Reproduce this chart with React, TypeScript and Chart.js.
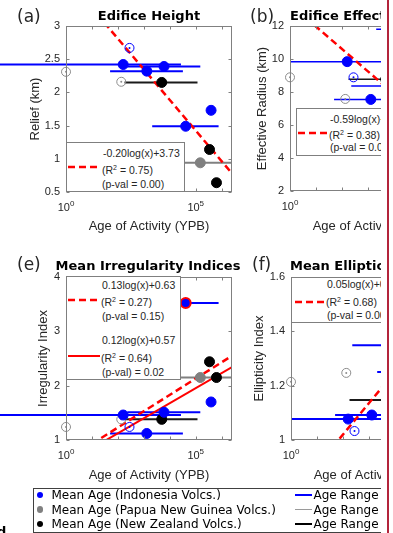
import React, { useEffect, useRef } from 'react';
import { Chart, registerables } from 'chart.js';

Chart.register(...registerables);

const SANS = "'Liberation Sans', Arial, Helvetica, sans-serif";
const DEJAVU = "'DejaVu Sans', sans-serif";

// ---------- shared x axis: Age of Activity (YPB), log scale ----------
const X_MIN = 1;
const X_MAX = 2500000;
const X_TICKS = [1, 10, 100, 1000, 10000, 100000, 1000000];
const X_LABEL_TICKS = [1, 100000];

// ---------- ages (years before present) ----------
const IDN_AGE = [160, 6000, 1300, 390000, 41000];
const IDN_AGE_MIN = [0.002, 230, 50, null, 2100];
const IDN_AGE_MAX = [27000, 150000, 32000, null, 760000];
const PNG_AGE = [150000];
const PNG_AGE_MIN = [8000];
const PNG_AGE_MAX = [5000000];
const NZ_AGE = [4900, 340000, 630000];
const NZ_AGE_MIN = [180, null, null];
const NZ_AGE_MAX = [117000, null, null];
const IDN_OPEN_AGE = [280];
const PNG_OPEN_AGE = [1];
const NZ_OPEN_AGE = [135];

// ---------- (a) Edifice Height ----------
const RELIEF_TICKS = [0.5, 1, 1.5, 2, 2.5, 3];
const RELIEF_IDN = [2.42, 2.39, 2.32, 1.73, 1.49];
const RELIEF_PNG = [0.94];
const RELIEF_NZ = [2.15, 1.14, 0.64];
const RELIEF_IDN_OPEN = [2.67];
const RELIEF_PNG_OPEN = [2.31];
const RELIEF_NZ_OPEN = [2.16];
const RELIEF_FIT_X = [30, 2500000];
const RELIEF_FIT_Y = [3.05, 0.78];

// ---------- (b) Edifice Effective Radius ----------
const RADIUS_TICKS = [2, 4, 6, 8, 10, 12];
const RADIUS_IDN = [9.84, 8.36, 7.55, 5.6, 11.8];
const RADIUS_PNG = [6.2];
const RADIUS_NZ = [8.77, 5.0, 4.3];
const RADIUS_IDN_OPEN = [8.89];
const RADIUS_PNG_OPEN = [8.89];
const RADIUS_NZ_OPEN = [7.58];
const RADIUS_FIT_X = [2, 2500000];
const RADIUS_FIT_Y = [12.92, 4.64];

// ---------- (e) Mean Irregularity Indices ----------
const IRREG_TICKS = [1, 2, 3, 4];
const IRREG_IDN = [1.46, 1.51, 1.12, 1.7, 3.52];
const IRREG_PNG = [2.15];
const IRREG_NZ = [1.38, 2.44, 2.15];
const IRREG_IDN_OPEN = [1.24];
const IRREG_PNG_OPEN = [1.24];
const IRREG_NZ_OPEN = [1.38];
const IRREG_OUTLIER = 4;
const IRREG_FIT_ALL_X = [10, 2500000];
const IRREG_FIT_ALL_Y = [0.93, 2.55];
const IRREG_FIT_SUB_X = [20, 2500000];
const IRREG_FIT_SUB_Y = [0.93, 2.34];

// ---------- (f) Mean Ellipticity ----------
const ELLIP_TICKS = [1, 1.2, 1.4, 1.6];
const ELLIP_IDN = [1.077, 1.349, 1.092, 1.3, 1.25];
const ELLIP_PNG = [1.33];
const ELLIP_NZ = [1.147, 1.36, 1.3];
const ELLIP_IDN_OPEN = [1.033];
const ELLIP_PNG_OPEN = [1.214];
const ELLIP_NZ_OPEN = [1.247];
const ELLIP_FIT_X = [40, 2500000];
const ELLIP_FIT_Y = [0.974, 1.527];

const BLUE = '#0000ff';
const GRAY = '#808080';
const OPEN_GRAY = '#8c8c8c';
const BLACK = '#000000';
const RANGE_BLACK = '#1a1a1a';
const RED = '#ff0000';
const TXT = '#262626';

const pts = (xs: number[], ys: number[]) => xs.map((x, i) => ({ x, y: ys[i] }));

function buildDatasets(p: any) {
  const ds: any[] = [];
  const clip = p.extendLeft ? { left: false, top: 0, right: 0, bottom: 0 } : 0;
  const addRanges = (mins: any[], maxs: any[], ys: number[], color: string) => {
    mins.forEach((lo, i) => {
      const hi = maxs[i];
      if (lo == null || hi == null) return;
      ds.push({
        data: [{ x: lo, y: ys[i] }, { x: hi, y: ys[i] }],
        showLine: true, borderColor: color, borderWidth: p.rangeWidth,
        pointRadius: 0, clip, order: 3,
      });
    });
  };
  addRanges(IDN_AGE_MIN, IDN_AGE_MAX, p.idn, BLUE);
  addRanges(PNG_AGE_MIN, PNG_AGE_MAX, p.png, GRAY);
  addRanges(NZ_AGE_MIN, NZ_AGE_MAX, p.nz, RANGE_BLACK);
  p.fits.forEach((f: any) => {
    ds.push({
      data: pts(f.x, f.y), showLine: true, borderColor: RED,
      borderWidth: f.dash ? 2.5 : 2, borderDash: f.dash ? [7, 4] : [],
      pointRadius: 0, clip: 0, order: 2,
    });
  });
  const open = (xs: number[], ys: number[], color: string) => {
    ds.push({
      data: pts(xs, ys), pointRadius: 4.5, pointBorderWidth: 1,
      pointBorderColor: color, pointBackgroundColor: 'rgba(0,0,0,0)', clip: false, order: 1,
    });
    ds.push({
      data: pts(xs, ys), pointRadius: 1, pointBorderWidth: 0,
      pointBackgroundColor: color, pointBorderColor: color, clip: false, order: 1,
    });
  };
  open(IDN_OPEN_AGE, p.idnOpen, BLUE);
  open(PNG_OPEN_AGE, p.pngOpen, OPEN_GRAY);
  open(NZ_OPEN_AGE, p.nzOpen, OPEN_GRAY);
  const filled = (xs: number[], ys: number[], color: string, outlier?: number) => {
    ds.push({
      data: pts(xs, ys), pointRadius: 5,
      pointBackgroundColor: color,
      pointBorderColor: xs.map((_, i) => (i === outlier ? RED : color)),
      pointBorderWidth: xs.map((_, i) => (i === outlier ? 2 : 1)),
      clip: false, order: 0,
    });
  };
  filled(IDN_AGE, p.idn, BLUE, p.outlier);
  filled(PNG_AGE, p.png, GRAY);
  filled(NZ_AGE, p.nz, BLACK);
  return ds;
}

function makeFrame(yTicks: number[]) {
  return {
    id: 'matlabFrame',
    afterDraw(chart: any) {
      const { ctx, chartArea: a } = chart;
      const xs = chart.scales.x;
      const ys = chart.scales.y;
      ctx.save();
      ctx.strokeStyle = '#808080';
      ctx.lineWidth = 1;
      const L = Math.round(a.left) + 0.5;
      const R = Math.round(a.right) - 0.5;
      const T = Math.round(a.top) + 0.5;
      const B = Math.round(a.bottom) - 0.5;
      ctx.strokeRect(L, T, R - L, B - T);
      ctx.beginPath();
      X_TICKS.forEach((v) => {
        const p = Math.round(xs.getPixelForValue(v)) + 0.5;
        ctx.moveTo(p, B); ctx.lineTo(p, B - 3);
        ctx.moveTo(p, T); ctx.lineTo(p, T + 3);
      });
      yTicks.forEach((v) => {
        const p = Math.round(ys.getPixelForValue(v)) + 0.5;
        ctx.moveTo(L, p); ctx.lineTo(L + 3, p);
        ctx.moveTo(R, p); ctx.lineTo(R - 3, p);
      });
      ctx.stroke();
      ctx.fillStyle = TXT;
      ctx.textBaseline = 'alphabetic';
      ctx.textAlign = 'left';
      X_LABEL_TICKS.forEach((v) => {
        const p = xs.getPixelForValue(v);
        const exp = String(Math.round(Math.log10(v)));
        ctx.font = `11px ${SANS}`;
        const w1 = ctx.measureText('10').width;
        ctx.font = `8px ${SANS}`;
        const w2 = ctx.measureText(exp).width;
        const x0 = p - (w1 + w2) / 2;
        const base = a.bottom + 19;
        ctx.font = `11px ${SANS}`;
        ctx.fillText('10', x0, base);
        ctx.font = `8px ${SANS}`;
        ctx.fillText(exp, x0 + w1, base - 5);
      });
      ctx.restore();
    },
  };
}

function Panel({ geo, datasets, yMin, yMax, yTicks, yTitle }: any) {
  const ref = useRef<HTMLCanvasElement>(null);
  useEffect(() => {
    const lh = 13 * 1.2;
    const chart = new Chart(ref.current as HTMLCanvasElement, {
      type: 'scatter',
      data: { datasets },
      options: {
        responsive: false,
        animation: false,
        devicePixelRatio: 1,
        events: [],
        layout: { padding: { left: 0, top: geo.pt - geo.ct, right: geo.cl + geo.w - geo.pr, bottom: 0 } },
        plugins: { legend: { display: false }, tooltip: { enabled: false }, title: { display: false } },
        scales: {
          x: {
            type: 'logarithmic', position: 'bottom', min: X_MIN, max: X_MAX,
            grid: { display: false, drawTicks: false }, border: { display: false },
            ticks: { display: false },
            title: {
              display: true, text: 'Age of Activity (YPB)', color: TXT,
              font: { size: 13, family: SANS },
              padding: { top: 0, bottom: geo.ct + geo.h - geo.xTitleY - lh / 2 },
            },
            afterFit: (s: any) => { s.height = geo.ct + geo.h - geo.pb; },
          },
          y: {
            type: 'linear', position: 'left', min: yMin, max: yMax,
            afterBuildTicks: (s: any) => { s.ticks = yTicks.map((v: number) => ({ value: v })); },
            grid: { display: false, drawTicks: false }, border: { display: false },
            ticks: { color: TXT, font: { size: 11, family: SANS }, padding: 6, callback: (v: any) => String(v) },
            title: {
              display: true, text: yTitle, color: TXT,
              font: { size: 13, family: SANS },
              padding: { top: geo.yTitleX - geo.cl - lh / 2, bottom: 0 },
            },
            afterFit: (s: any) => { s.width = geo.pl - geo.cl; },
          },
        },
      } as any,
      plugins: [makeFrame(yTicks)],
    });
    return () => chart.destroy();
  }, []);
  return (
    <canvas
      ref={ref}
      width={geo.w}
      height={geo.h}
      style={{ position: 'absolute', left: geo.cl, top: geo.ct, width: geo.w, height: geo.h }}
    />
  );
}

function Txt({ x, cy, size, font, weight, align, color, children }: any) {
  const lh = Math.round(size * 1.3);
  const style: any = {
    position: 'absolute', top: cy - lh / 2, lineHeight: lh + 'px', fontSize: size,
    fontFamily: font || SANS, fontWeight: weight || 'normal', whiteSpace: 'nowrap', color: color || TXT,
  };
  if (align === 'center') { style.left = x - 200; style.width = 400; style.textAlign = 'center'; }
  else style.left = x;
  return <div style={style}>{children}</div>;
}

function Box({ x, y, w, h, border }: any) {
  return (
    <div style={{ position: 'absolute', left: x, top: y, width: w, height: h, boxSizing: 'border-box', border: `1px solid ${border || '#7f7f7f'}`, background: '#fff' }} />
  );
}

function Sample({ x1, x2, y, dashed, color, width }: any) {
  return (
    <svg style={{ position: 'absolute', left: x1, top: y - 4, overflow: 'visible' }} width={x2 - x1} height={8}>
      <line x1={0} y1={4} x2={x2 - x1} y2={4} stroke={color || RED} strokeWidth={width || 2.5} strokeDasharray={dashed ? '7 4' : undefined} />
    </svg>
  );
}

const R2 = ({ v }: any) => (
  <>(R<sup style={{ fontSize: '7px', verticalAlign: '4px', lineHeight: 0 }}>2</sup> = {v})</>
);

const LEGEND_ROWS = [
  { label: 'Mean Age (Indonesia Volcs.)', range: 'Age Range (Indonesia Volcs.)', dot: BLUE, line: BLUE, lw: 1.5 },
  { label: 'Mean Age (Papua New Guinea Volcs.)', range: 'Age Range (Papua New Guinea Volcs.)', dot: GRAY, line: '#9a9a9a', lw: 1.2 },
  { label: 'Mean Age (New Zealand Volcs.)', range: 'Age Range (New Zealand Volcs.)', dot: BLACK, line: BLACK, lw: 1.5 },
];
const LEGEND_ROW_Y = [495, 509.5, 524];

const GEO_A = { cl: 0, ct: 0, w: 250, h: 240, pl: 66, pt: 26, pr: 232, pb: 192, yTitleX: 35, xTitleY: 226 };
const GEO_B = { cl: 224, ct: 0, w: 250, h: 240, pl: 290, pt: 26, pr: 456, pb: 191, yTitleX: 262, xTitleY: 226 };
const GEO_E = { cl: 0, ct: 251, w: 250, h: 240, pl: 66, pt: 277, pr: 232, pb: 440, yTitleX: 43, xTitleY: 475 };
const GEO_F = { cl: 225, ct: 251, w: 250, h: 240, pl: 291, pt: 277, pr: 457, pb: 440, yTitleX: 259, xTitleY: 475 };

export default function App() {
  const dsA = buildDatasets({
    idn: RELIEF_IDN, png: RELIEF_PNG, nz: RELIEF_NZ,
    idnOpen: RELIEF_IDN_OPEN, pngOpen: RELIEF_PNG_OPEN, nzOpen: RELIEF_NZ_OPEN,
    fits: [{ x: RELIEF_FIT_X, y: RELIEF_FIT_Y, dash: true }], rangeWidth: 2, extendLeft: true,
  });
  const dsB = buildDatasets({
    idn: RADIUS_IDN, png: RADIUS_PNG, nz: RADIUS_NZ,
    idnOpen: RADIUS_IDN_OPEN, pngOpen: RADIUS_PNG_OPEN, nzOpen: RADIUS_NZ_OPEN,
    fits: [{ x: RADIUS_FIT_X, y: RADIUS_FIT_Y, dash: true }], rangeWidth: 1.5, extendLeft: false,
  });
  const dsE = buildDatasets({
    idn: IRREG_IDN, png: IRREG_PNG, nz: IRREG_NZ,
    idnOpen: IRREG_IDN_OPEN, pngOpen: IRREG_PNG_OPEN, nzOpen: IRREG_NZ_OPEN,
    fits: [
      { x: IRREG_FIT_ALL_X, y: IRREG_FIT_ALL_Y, dash: true },
      { x: IRREG_FIT_SUB_X, y: IRREG_FIT_SUB_Y, dash: false },
    ],
    rangeWidth: 2, extendLeft: true, outlier: IRREG_OUTLIER,
  });
  const dsF = buildDatasets({
    idn: ELLIP_IDN, png: ELLIP_PNG, nz: ELLIP_NZ,
    idnOpen: ELLIP_IDN_OPEN, pngOpen: ELLIP_PNG_OPEN, nzOpen: ELLIP_NZ_OPEN,
    fits: [{ x: ELLIP_FIT_X, y: ELLIP_FIT_Y, dash: true }], rangeWidth: 2, extendLeft: false,
  });

  return (
    <div style={{ position: 'absolute', left: 0, top: 0, width: 393, height: 533, overflow: 'hidden', background: '#fff' }}>
      <div style={{ position: 'absolute', left: 0, top: 0, width: 381, height: 533, overflow: 'hidden' }}>
        <Panel geo={GEO_A} datasets={dsA} yMin={0.5} yMax={3} yTicks={RELIEF_TICKS} yTitle="Relief (km)" />
        <Panel geo={GEO_B} datasets={dsB} yMin={2} yMax={12} yTicks={RADIUS_TICKS} yTitle="Effective Radius (km)" />
        <Panel geo={GEO_E} datasets={dsE} yMin={1} yMax={4} yTicks={IRREG_TICKS} yTitle="Irregularity Index" />
        <Panel geo={GEO_F} datasets={dsF} yMin={1} yMax={1.6} yTicks={ELLIP_TICKS} yTitle="Ellipticity Index" />

        {/* panel labels and titles */}
        <Txt x={17} cy={16} size={17} font={DEJAVU}>(a)</Txt>
        <Txt x={149} cy={15} size={13} font={DEJAVU} weight="bold" align="center" color="#000">Edifice Height</Txt>
        <Txt x={250} cy={16} size={17} font={DEJAVU}>(b)</Txt>
        <Txt x={290} cy={15} size={13} font={DEJAVU} weight="bold" color="#000">Edifice Effective Radius</Txt>
        <Txt x={17} cy={264} size={17} font={DEJAVU}>(e)</Txt>
        <Txt x={148} cy={265} size={13} font={DEJAVU} weight="bold" align="center" color="#000">Mean Irregularity Indices</Txt>
        <Txt x={252} cy={264} size={17} font={DEJAVU}>(f)</Txt>
        <Txt x={290} cy={265} size={13} font={DEJAVU} weight="bold" color="#000">Mean Ellipticity Index</Txt>

        {/* (a) fit legend */}
        <Box x={66} y={142} w={119} h={50} />
        <Sample x1={68} x2={100} y={167} dashed />
        <Txt x={103} cy={153} size={10.5}>-0.20log(x)+3.73</Txt>
        <Txt x={102} cy={170} size={10.5}><R2 v="0.75" /></Txt>
        <Txt x={102} cy={184} size={10.5}>(p-val = 0.00)</Txt>

        {/* (b) fit legend */}
        <Box x={296} y={108} w={126} h={48} />
        <Sample x1={298} x2={328} y={133} dashed />
        <Txt x={330} cy={119} size={10.5}>-0.59log(x)+13.33</Txt>
        <Txt x={329} cy={135} size={10.5}><R2 v="0.38" /></Txt>
        <Txt x={330} cy={147} size={10.5}>(p-val = 0.00)</Txt>

        {/* (e) fit legend */}
        <Box x={66} y={276} w={115} h={104} />
        <Sample x1={68} x2={100} y={300} dashed />
        <Sample x1={68} x2={100} y={356} width={2} />
        <Txt x={102} cy={285} size={10.5}>0.13log(x)+0.63</Txt>
        <Txt x={101} cy={301.5} size={10.5}><R2 v="0.27" /></Txt>
        <Txt x={102} cy={316} size={10.5}>(p-val = 0.15)</Txt>
        <Txt x={102} cy={340} size={10.5}>0.12log(x)+0.57</Txt>
        <Txt x={101} cy={358} size={10.5}><R2 v="0.64" /></Txt>
        <Txt x={102} cy={372} size={10.5}>(p-val) = 0.02</Txt>

        {/* (f) fit legend */}
        <Box x={291} y={277} w={120} h={46} />
        <Sample x1={295} x2={324} y={301.5} dashed />
        <Txt x={327} cy={284} size={10.5}>0.05log(x)+0.79</Txt>
        <Txt x={326} cy={301.5} size={10.5}><R2 v="0.68" /></Txt>
        <Txt x={327} cy={315} size={10.5}>(p-val = 0.00)</Txt>

        {/* shared legend */}
        <Box x={33} y={488} w={420} h={45} border="#404040" />
        {LEGEND_ROWS.map((r, i) => {
          const cy = LEGEND_ROW_Y[i];
          return (
            <React.Fragment key={i}>
              <div style={{ position: 'absolute', left: 40 - 3.3, top: cy - 3.3, width: 6.6, height: 6.6, borderRadius: '50%', background: r.dot }} />
              <Txt x={51.5} cy={cy} size={12} font={DEJAVU} color="#000">{r.label}</Txt>
              <div style={{ position: 'absolute', left: 295, top: cy - r.lw / 2, width: 17, height: r.lw, background: r.line }} />
              <Txt x={313.5} cy={cy} size={12} font={DEJAVU} color="#000">{r.range}</Txt>
            </React.Fragment>
          );
        })}
      </div>
      <div style={{ position: 'absolute', left: -3, top: 525, fontFamily: DEJAVU, fontWeight: 'bold', fontSize: 13, lineHeight: '13px', color: '#000' }}>d.</div>
      <div style={{ position: 'absolute', left: 387, top: 0, width: 2, height: 533, background: '#b3243b' }} />
    </div>
  );
}
